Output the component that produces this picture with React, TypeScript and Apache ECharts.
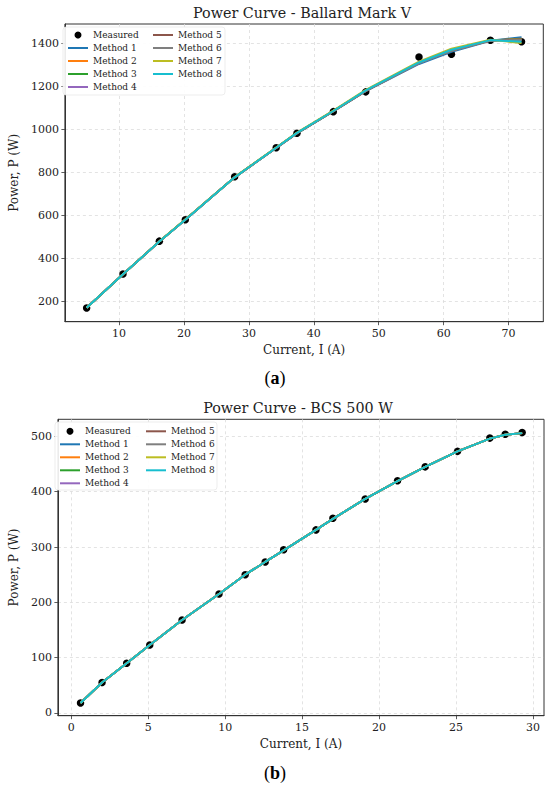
import React, { useEffect, useRef } from "react";
import * as echarts from "echarts";

// ---- Chart (a): Ballard Mark V ----
const currentA = [5.0, 10.6, 16.2, 20.2, 27.8, 34.2, 37.4, 43.0, 48.0, 56.2, 61.2, 67.2, 72.0];
const measuredA = [169, 327, 480, 580, 780, 915, 982, 1083, 1175, 1337, 1350, 1415, 1408];
const method1A = [170, 326, 478, 580, 777, 914, 982, 1084, 1178, 1305, 1362, 1413, 1429];
const method2A = [170, 326, 478, 581, 777, 915, 983, 1085, 1180, 1310, 1368, 1414, 1422];
const method3A = [170, 326, 478, 581, 778, 915, 983, 1085, 1181, 1311, 1369, 1415, 1420];
const method4A = [170, 326, 478, 580, 777, 914, 983, 1085, 1180, 1309, 1367, 1414, 1418];
const method5A = [170, 326, 478, 580, 777, 914, 983, 1085, 1180, 1310, 1367, 1414, 1419];
const method6A = [170, 326, 478, 580, 777, 914, 983, 1085, 1180, 1309, 1366, 1414, 1416];
const method7A = [170, 326, 479, 581, 778, 916, 985, 1088, 1184, 1316, 1376, 1418, 1402];
const method8A = [170, 326, 478, 580, 777, 915, 984, 1086, 1182, 1312, 1371, 1416, 1408];
const xTicksA = [10, 20, 30, 40, 50, 60, 70];
const yTicksA = [200, 400, 600, 800, 1000, 1200, 1400];

// ---- Chart (b): BCS 500 W ----
const currentB = [0.6, 2.0, 3.6, 5.1, 7.2, 9.6, 11.3, 12.6, 13.8, 15.9, 17.0, 19.1, 21.2, 23.0, 25.1, 27.2, 28.2, 29.3];
const measuredB = [18, 55, 90, 123, 168, 215, 250, 273, 295, 331, 352, 387, 420, 445, 473, 497, 504, 507];
const modelB = [18, 55, 90, 123, 168, 215, 250, 273, 294, 331, 351, 387, 419, 445, 473, 496, 503, 506];
const xTicksB = [0, 5, 10, 15, 20, 25, 30];
const yTicksB = [0, 100, 200, 300, 400, 500];

const methodNames = ["Method 1", "Method 2", "Method 3", "Method 4", "Method 5", "Method 6", "Method 7", "Method 8"];
const methodColors = ["#1f77b4", "#ff7f0e", "#2ca02c", "#9467bd", "#8c564b", "#7f7f7f", "#bcbd22", "#17becf"];
const methodsA = [method1A, method2A, method3A, method4A, method5A, method6A, method7A, method8A];
const methodsB = [modelB, modelB, modelB, modelB, modelB, modelB, modelB, modelB];

const FONT = "DejaVu Serif";
const AXIS_COLOR = "#333";
const LINE_ICON = "path://M0,0 L40,0 L40,4 L0,4 Z";

function pairs(xs: number[], ys: number[]) {
  return xs.map((x, i) => [x, ys[i]]);
}

function makeAxis(min: number, max: number, ticks: number[], extra: any) {
  return {
    type: "value",
    min,
    max,
    axisLine: { show: true, onZero: false, lineStyle: { color: AXIS_COLOR, width: 1 } },
    axisTick: { show: true, length: 3.5, customValues: ticks, lineStyle: { color: AXIS_COLOR, width: 0.8 } },
    axisLabel: {
      customValues: ticks,
      color: "#222",
      fontFamily: FONT,
      fontSize: 11,
      margin: 6,
      formatter: (v: number) => String(v),
    },
    splitLine: { show: true, lineStyle: { color: "#dcdcdc", width: 0.8, type: [3, 3] } },
    nameTextStyle: { color: "#222", fontFamily: FONT, fontSize: 12 },
    nameLocation: "middle",
    ...extra,
  };
}

function legendBox(left: number, top: number, names: string[]) {
  return {
    left,
    top,
    orient: "vertical",
    padding: 0,
    itemGap: 0,
    itemWidth: 20,
    itemHeight: 7,
    z: 5,
    textStyle: { fontFamily: FONT, fontSize: 9, color: "#222", lineHeight: 13 },
    data: names.map((n) =>
      n === "Measured" ? { name: n, icon: "circle", itemStyle: { opacity: 1 } } : { name: n, icon: LINE_ICON }
    ),
  };
}

export default function App() {
  const ref = useRef<HTMLDivElement>(null);
  useEffect(() => {
    if (!ref.current) return;
    const chart = echarts.init(ref.current, undefined, { renderer: "svg" });

    const series: any[] = [];
    const addSet = (idx: number, xs: number[], meas: number[], methods: number[][]) => {
      series.push({
        name: "Measured",
        type: "scatter",
        xAxisIndex: idx,
        yAxisIndex: idx,
        symbol: "circle",
        symbolSize: 7.5,
        itemStyle: { color: "#000", opacity: 1 },
        z: 1,
        data: pairs(xs, meas),
      });
      methods.forEach((m, i) => {
        series.push({
          name: methodNames[i],
          type: "line",
          xAxisIndex: idx,
          yAxisIndex: idx,
          showSymbol: false,
          symbol: "none",
          lineStyle: { color: methodColors[i], width: 2 },
          itemStyle: { color: methodColors[i] },
          z: 2 + i * 0.01,
          data: pairs(xs, m),
        });
      });
    };
    addSet(0, currentA, measuredA, methodsA);
    addSet(1, currentB, measuredB, methodsB);

    const captionStyle = (letter: string) => ({
      text: `({b|${letter}})`,
      font: "18px 'Liberation Serif'",
      fill: "#000",
      textAlign: "center",
      textVerticalAlign: "middle",
      rich: { b: { fontWeight: "bold", fontSize: 18, fontFamily: "Liberation Serif", fill: "#000" } },
    });

    const option: any = {
      animation: false,
      backgroundColor: "#fff",
      grid: [
        { left: 60.7, top: 24, width: 482.6, height: 297.7, show: true, borderColor: AXIS_COLOR, borderWidth: 1, backgroundColor: "transparent" },
        { left: 52.7, top: 419.3, width: 491.3, height: 296.4, show: true, borderColor: AXIS_COLOR, borderWidth: 1, backgroundColor: "transparent" },
      ],
      xAxis: [
        makeAxis(1.65, 75.35, xTicksA, { gridIndex: 0, name: "Current, I (A)", nameGap: 22 }),
        makeAxis(-0.87, 30.72, xTicksB, { gridIndex: 1, name: "Current, I (A)", nameGap: 22 }),
      ],
      yAxis: [
        makeAxis(105, 1491, yTicksA, { gridIndex: 0, name: "Power, P (W)", nameGap: 42 }),
        makeAxis(-5, 531, yTicksB, { gridIndex: 1, name: "Power, P (W)", nameGap: 34.5 }),
      ],
      legend: [
        legendBox(68, 28.5, ["Measured", "Method 1", "Method 2", "Method 3", "Method 4"]),
        legendBox(153, 28.5, ["Method 5", "Method 6", "Method 7", "Method 8"]),
        legendBox(60, 424.8, ["Measured", "Method 1", "Method 2", "Method 3", "Method 4"]),
        legendBox(146, 424.8, ["Method 5", "Method 6", "Method 7", "Method 8"]),
      ],
      graphic: [
        { type: "rect", z: 4, shape: { x: 63, y: 27, width: 162, height: 68, r: 3 }, style: { fill: "rgba(255,255,255,0.9)", stroke: "#e8e8e8", lineWidth: 0.8 } },
        { type: "rect", z: 4, shape: { x: 55, y: 422, width: 162, height: 68, r: 3 }, style: { fill: "rgba(255,255,255,0.9)", stroke: "#e8e8e8", lineWidth: 0.8 } },
        { type: "text", x: 302, y: 12.5, style: { text: "Power Curve - Ballard Mark V", font: `14.3px '${FONT}'`, fill: "#222", textAlign: "center", textVerticalAlign: "middle" } },
        { type: "text", x: 298, y: 408, style: { text: "Power Curve - BCS 500 W", font: `14.3px '${FONT}'`, fill: "#222", textAlign: "center", textVerticalAlign: "middle" } },
        { type: "text", x: 275, y: 377.7, style: captionStyle("a") },
        { type: "text", x: 275, y: 773.2, style: captionStyle("b") },
      ],
      series,
    };
    chart.setOption(option);
    return () => chart.dispose();
  }, []);
  return <div ref={ref} style={{ position: "absolute", left: 0, top: 0, width: 550, height: 788 }} />;
}
